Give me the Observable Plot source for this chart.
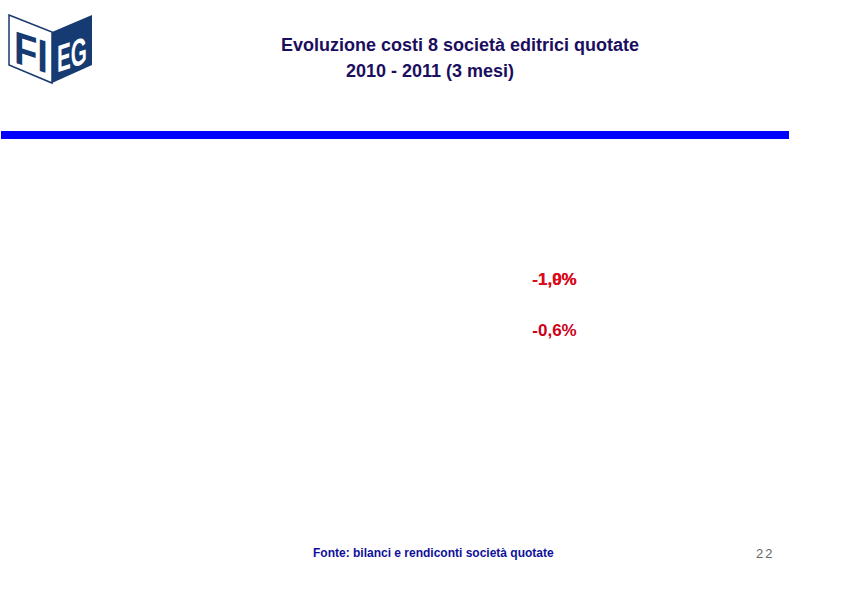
<!DOCTYPE html>
<html><head><meta charset="utf-8">
<script src="https://cdn.jsdelivr.net/npm/d3@7"></script>
<script src="https://cdn.jsdelivr.net/npm/@observablehq/plot@0.6"></script>
<style>
html,body{margin:0;padding:0;background:#fff;width:842px;height:595px;overflow:hidden;position:relative;font-family:Arial,"Liberation Sans",sans-serif;}
.abs{position:absolute;white-space:nowrap;}
#title1{left:281px;top:35px;font-size:18px;font-weight:bold;color:#1c0e5e;}
#title2{left:346px;top:61px;font-size:18px;font-weight:bold;color:#1c0e5e;}
#rule{left:1px;top:131px;width:788px;height:8px;background:#0000ff;}
#source{left:313px;top:546px;font-size:12px;font-weight:bold;color:#10109a;}
#page{left:756px;top:546px;font-size:13px;color:#666;letter-spacing:2px;}
#chart{left:0;top:0;}
</style></head>
<body>
<svg class="abs" style="left:0;top:0" width="120" height="100">
  <polygon points="9,15 52,32 52,83 9,65" fill="#fff" stroke="#1a3a6e" stroke-width="1.5"/>
  <polygon points="52,32 92,15 92,65 52,83" fill="#163a72"/>
  <text x="31" y="70" font-family="Arial, Liberation Sans, sans-serif" font-weight="bold" font-size="46" fill="#163a72" text-anchor="middle" transform="skewY(18) translate(0,-12)" textLength="34" lengthAdjust="spacingAndGlyphs">FI</text>
  <text x="72" y="68" font-family="Arial, Liberation Sans, sans-serif" font-weight="bold" font-size="38" fill="#fff" text-anchor="middle" transform="skewY(-18) translate(0,23)" textLength="30" lengthAdjust="spacingAndGlyphs">EG</text>
</svg>
<div id="title1" class="abs">Evoluzione costi 8 società editrici quotate</div>
<div id="title2" class="abs">2010 - 2011 (3 mesi)</div>
<div id="rule" class="abs"></div>
<div id="chart" class="abs"></div>
<div id="source" class="abs">Fonte: bilanci e rendiconti società quotate</div>
<div id="page" class="abs">22</div>
<script>
// Data labels (the bars themselves are not visible in the reference)
const groups = ["Gruppo 1", "Gruppo 1", "Gruppo 2"];
const series = ["Serie A", "Serie B", "Serie A"];
const values = [-1.0, -1.9, -0.6];
const colors = ["#c8001a", "#dd0a1a", "#cc0018"];
const column = ["Var. %", "Var. %", "Var. %"];

const data = values.map((v, i) => ({
  group: groups[i], series: series[i], value: v, col: column[i], color: colors[i],
  label: (v < 0 ? "-" : "") + Math.abs(v).toFixed(1).replace(".", ",") + "%"
}));

const chart = Plot.plot({
  width: 842,
  height: 595,
  margin: 0,
  x: {type: "point", domain: ["Var. %"], range: [554, 554], padding: 0, axis: null},
  y: {type: "point", domain: ["Gruppo 1", "Gruppo 2"], range: [279, 330], padding: 0, axis: null},
  marks: [
    Plot.text(data, {
      x: "col", y: "group", text: "label", fill: "color",
      fontSize: 17, fontWeight: "bold", fontFamily: "Arial, Liberation Sans, sans-serif",
      textAnchor: "middle"
    })
  ]
});
document.getElementById("chart").appendChild(chart);
</script>
</body></html>
